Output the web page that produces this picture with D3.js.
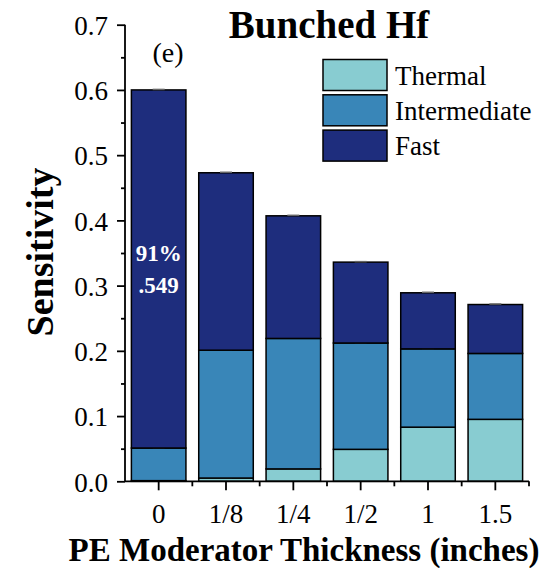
<!DOCTYPE html>
<meta charset="utf-8">
<head>
    <title>Bunched Hf</title>
    <script type="text/javascript" src="https://cdn.jsdelivr.net/npm/d3@7"></script>
    <style>
        body { margin: 0; background: #fff; }
        text { font-family: "Liberation Serif", "Times New Roman", serif; }
    </style>
</head>
<body>
<div id="chart"></div>
<script>
    // data
    const thickness = ["0", "1/8", "1/4", "1/2", "1", "1.5"];
    const thermal = [0.001, 0.005, 0.019, 0.049, 0.083, 0.095];
    const intermediate = [0.050, 0.196, 0.200, 0.163, 0.120, 0.101];
    const fast = [0.549, 0.272, 0.188, 0.124, 0.086, 0.075];
    const groups = ["Thermal", "Intermediate", "Fast"];
    const colors = ["#88ccd1", "#3986b8", "#1e2d7d"];
    const yTicks = [0, 0.1, 0.2, 0.3, 0.4, 0.5, 0.6, 0.7];

    const width = 555, height = 568;
    const svg = d3.select("#chart").append("svg")
        .attr("width", width).attr("height", height);

    const x = d3.scaleBand().domain(thickness).range([125, 529]).paddingInner(0.19).paddingOuter(0.095);
    const y = d3.scaleLinear().domain([0, 0.7]).range([481.3, 24.7]);

    // stack the series
    const table = thickness.map((t, i) => ({ t: t, Thermal: thermal[i], Intermediate: intermediate[i], Fast: fast[i] }));
    const stacked = d3.stack().keys(groups)(table);

    const layers = svg.append("g").selectAll("g")
        .data(stacked).enter().append("g")
        .attr("fill", (d, i) => colors[i]);

    layers.selectAll("rect")
        .data(d => d).enter().append("rect")
        .attr("x", d => x(d.data.t))
        .attr("width", x.bandwidth())
        .attr("y", d => y(d[1]))
        .attr("height", d => y(d[0]) - y(d[1]))
        .attr("stroke", "#000")
        .attr("stroke-width", 1.5);

    // tiny error caps at segment tops
    layers.selectAll("line")
        .data(d => d).enter().append("line")
        .attr("x1", d => x(d.data.t) + x.bandwidth() / 2 - 6)
        .attr("x2", d => x(d.data.t) + x.bandwidth() / 2 + 6)
        .attr("y1", d => y(d[1]) - 0.5)
        .attr("y2", d => y(d[1]) - 0.5)
        .attr("stroke", "#666").attr("stroke-width", 1.5);

    // y axis
    const yAxis = d3.axisLeft(y).tickValues(yTicks).tickFormat(d3.format(".1f")).tickSize(8).tickPadding(9);
    const gy = svg.append("g").attr("transform", "translate(125,0)").call(yAxis);
    gy.selectAll("text").style("font-size", "27px").attr("fill", "#000").attr("dy", "0.36em");
    gy.selectAll("line").attr("stroke-width", 1.8);
    gy.select(".domain").attr("stroke-width", 1.8).attr("d", "M0," + y(0) + "V" + y(0.7));
    const yMinor = d3.axisLeft(y).tickValues(yTicks.slice(0, -1).map(v => v + 0.05)).tickSize(4).tickFormat("");
    svg.append("g").attr("transform", "translate(125,0)").call(yMinor)
        .call(g => g.select(".domain").remove())
        .selectAll("line").attr("stroke-width", 1.8);

    // x axis
    const xAxis = d3.axisBottom(x).tickSize(9).tickPadding(14);
    const gx = svg.append("g").attr("transform", "translate(0," + y(0) + ")").call(xAxis);
    gx.selectAll("text").style("font-size", "27px").attr("fill", "#000");
    gx.selectAll("line").attr("stroke-width", 1.8);
    gx.select(".domain").attr("stroke-width", 1.8).attr("d", "M125,0H529");
    const step = x.step();
    const edges = d3.range(thickness.length + 1).map(i => 125 + i * step);
    svg.append("g").attr("transform", "translate(0," + y(0) + ")")
        .selectAll("line").data(edges.slice(1)).enter().append("line")
        .attr("x1", d => d).attr("x2", d => d).attr("y1", 0).attr("y2", 5)
        .attr("stroke", "#000").attr("stroke-width", 1.8);

    // titles
    svg.append("text").attr("x", 329).attr("y", 38).attr("text-anchor", "middle")
        .style("font-size", "39px").style("font-weight", "bold").text("Bunched Hf");
    svg.append("text").attr("x", 168).attr("y", 62).attr("text-anchor", "middle")
        .style("font-size", "28px").text("(e)");
    svg.append("text").attr("transform", "translate(53,252) rotate(-90)").attr("text-anchor", "middle")
        .style("font-size", "38px").style("font-weight", "bold").text("Sensitivity");
    svg.append("text").attr("x", 304).attr("y", 561).attr("text-anchor", "middle")
        .style("font-size", "33px").style("font-weight", "bold").text("PE Moderator Thickness (inches)");

    // annotation inside first bar
    const cx0 = x(thickness[0]) + x.bandwidth() / 2;
    svg.append("text").attr("x", cx0).attr("y", 261).attr("text-anchor", "middle").attr("fill", "#fff")
        .style("font-size", "23px").style("font-weight", "bold").text(Math.round(fast[0] / (thermal[0] + intermediate[0] + fast[0]) * 100) + "%");
    svg.append("text").attr("x", cx0).attr("y", 293).attr("text-anchor", "middle").attr("fill", "#fff")
        .style("font-size", "23px").style("font-weight", "bold").text(d3.format(".3f")(fast[0]).replace(/^0/, ""));

    // legend
    const legend = svg.append("g").attr("transform", "translate(323,59.5)");
    groups.forEach((g, i) => {
        legend.append("rect").attr("x", 0).attr("y", i * 35.3).attr("width", 64).attr("height", 31)
            .attr("fill", colors[i]).attr("stroke", "#000").attr("stroke-width", 1.5);
        legend.append("text").attr("x", 72).attr("y", i * 35.3 + 25).style("font-size", "27px").text(g);
    });
</script>
</body>
</html>
